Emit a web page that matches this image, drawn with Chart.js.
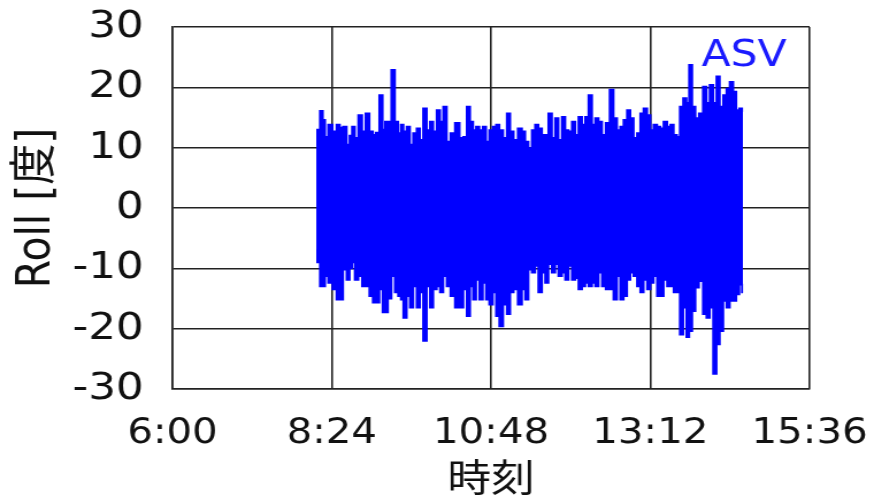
<!DOCTYPE html>
<html lang="ja">
<head>
<meta charset="utf-8">
<title>Roll</title>
<script src="https://cdn.jsdelivr.net/npm/chart.js@4.4.1/dist/chart.umd.min.js"></script>
<style>
  html, body { margin: 0; padding: 0; background: #fff; overflow: hidden; }
  #wrap { width: 874px; height: 496px; }
  /* 横長に引き伸ばした図なので canvas を横方向に拡大する */
  #chart { transform: scaleX(1.15); transform-origin: 0 0; }
</style>
</head>
<body>
<div id="wrap"><canvas id="chart" width="760" height="496"></canvas></div>
<script>
// ──────────────── データ ────────────────
// 時刻 [分, 0:00 起点]、区間ごとの最大・最小ロール角 [度]
const times = [
  490.0, 491.8, 494.9, 496.8, 499.0, 502.6, 506.7, 509.9, 512.6, 515.8, 519.0, 521.2, 523.5, 526.2, 529.8, 533.0, 536.2, 539.8, 542.5, 545.2, 548.8, 551.1,
  553.4, 556.1, 559.7, 562.4, 565.6, 567.4, 570.1, 573.3, 576.0, 579.2, 582.3, 585.1, 588.2, 591.4, 594.1, 597.3, 600.5, 603.2, 606.4, 609.5, 613.1, 617.7,
  621.3, 624.5, 627.6, 630.4, 633.1, 635.8, 639.0, 642.1, 644.8, 648.0, 651.2, 653.9, 657.1, 660.7, 663.9, 666.6, 670.2, 674.3, 677.5, 680.2, 683.3, 686.5,
  689.2, 692.4, 695.6, 698.3, 701.4, 704.6, 707.3, 710.5, 713.7, 716.4, 719.6, 722.7, 725.5, 728.6, 731.8, 734.5, 737.7, 740.8, 743.6, 746.7, 749.9, 753.5,
  757.1, 760.3, 763.5, 766.2, 769.4, 772.5, 775.3, 778.4, 781.6, 784.3, 787.5, 790.7, 793.4, 796.5, 799.7, 802.4, 805.6, 808.8, 811.5, 814.7, 817.4,
  820.1, 823.3, 826.0, 828.2, 831.4, 834.1, 837.8, 841.4, 844.1, 847.3, 850.4, 853.2, 856.3, 859.5, 862.2, 865.4, 868.5, 870.8, 874.0, 875.8
];
const rollMax = [
  10.5, 13, 16.1, 14.6, 11.8, 13.8, 12.7, 13.8, 13.3, 13.5, 10.5, 12, 13.5, 11.6, 15.4, 12.7, 15.7, 12.7, 12.1, 12.5, 18.7, 13,
  14.3, 14.3, 22.9, 14.3, 12.4, 13.8, 12.7, 13.5, 10.5, 12.4, 13.2, 11.3, 16.5, 12.9, 14.3, 12.7, 16.2, 14.3, 16.8, 11, 12.4, 14.1,
  11.6, 11.8, 16.8, 14.3, 12.9, 13.5, 12.9, 13.5, 11, 12.9, 13.5, 13.8, 12.9, 11.6, 15.7, 12.7, 11.3, 13.2, 12.7, 11, 9.9, 12.9,
  13.8, 13.2, 12.1, 12.1, 15.7, 11.6, 14.9, 11.3, 15.1, 12.9, 12.7, 14.3, 12.1, 15.1, 13.8, 15.1, 18.7, 13.8, 14.9, 14.3, 12.1, 14.1,
  19.6, 14.9, 12.9, 13.5, 14.6, 16.2, 14.9, 11.6, 12.4, 15.7, 16.5, 15.4, 12.9, 13.8, 13.5, 13.2, 14.3, 13.5, 13.8, 12.1, 11.8,
  16.8, 18.2, 17.4, 23.7, 16.8, 14.9, 15.7, 20.1, 17.4, 20.4, 17.4, 21.8, 16.8, 18.7, 19.8, 20.9, 19.3, 16.2, 16.5, 16
];
const rollMin = [
  -7, -9, -13, -13, -11.3, -12.4, -13.5, -15.2, -15.2, -10.2, -11.9, -10, -9, -11.9, -11.3, -13, -13, -14.6, -15.7, -15.7, -13.5, -17.3,
  -17.3, -15, -11.3, -14, -14.6, -15.2, -18.2, -14.6, -16.5, -13, -16.5, -14, -22, -13, -16.5, -13.5, -13, -14, -11.3, -13, -14.6, -16.5,
  -16.5, -13.5, -17.9, -13, -15.2, -11.9, -15.2, -12.4, -15.2, -16, -14, -17.9, -19.6, -16, -17.6, -14, -13.5, -16, -13.5, -15.2, -10.2, -10.7,
  -9.6, -14, -10.7, -12.4, -9.3, -10.7, -9.3, -11.3, -10.7, -11.9, -9.6, -11.9, -11.6, -13.5, -13, -12.4, -13, -12.4, -13, -10.7, -13, -13.5,
  -13.5, -15.2, -11.3, -15.2, -14.6, -11.9, -10.7, -11.3, -13, -14, -11.9, -13.5, -12.4, -11.3, -14.6, -14.6, -11.9, -13, -13, -14, -14,
  -21, -16.5, -21.4, -20.4, -17.1, -13.2, -12.1, -17.6, -18.2, -16.5, -27.5, -22.6, -20.4, -15.4, -16.5, -15.4, -15.4, -14.3, -12.7, -14
];

// 軸の範囲と目盛
const xMin = 360, xMax = 936, xStep = 144;   // 6:00 〜 15:36、2:24 刻み
const yMin = -30, yMax = 30, yStep = 10;
const seriesLabel = 'ASV';

// ──────────────── 描画 ────────────────
// 上側・下側の包絡線を階段状に描き、その間を塗りつぶして振動の帯にする
const upper = times.map((t, i) => ({ x: t, y: rollMax[i] }));
const lower = times.map((t, i) => ({ x: t, y: rollMin[i] }));

const fmtTime = v => `${Math.floor(v / 60)}:${String(v % 60).padStart(2, '0')}`;
const FONT = 'DejaVu Sans, "Noto Sans CJK JP", sans-serif';
const BLUE = '#0000ff';

// 右上に系列名を書く
const seriesName = {
  id: 'seriesName',
  afterDraw(chart) {
    const { ctx, chartArea } = chart;
    ctx.save();
    ctx.font = '37px ' + FONT;
    ctx.fillStyle = '#1a1aff';
    ctx.textAlign = 'right';
    ctx.textBaseline = 'middle';
    ctx.fillText(seriesLabel, chartArea.right - 20, chartArea.top + 29);
    ctx.restore();
  }
};

// 目盛ラベルを軸から離すための見えない目盛線
// (ticks.padding だと描画領域の余白まで増えてしまう)
const hiddenTicks = len => ({ color: '#222', lineWidth: 1.6, drawTicks: true, tickLength: len, tickColor: 'rgba(0,0,0,0)' });

new Chart(document.getElementById('chart'), {
  type: 'line',
  data: {
    datasets: [{
      label: seriesLabel,
      data: upper,
      borderColor: BLUE,
      backgroundColor: BLUE,
      borderWidth: 1.8,
      pointRadius: 0,
      stepped: 'middle',
      fill: '+1'
    }, {
      label: seriesLabel + ' min',
      data: lower,
      borderColor: BLUE,
      backgroundColor: BLUE,
      borderWidth: 1.8,
      pointRadius: 0,
      stepped: 'middle',
      fill: false
    }]
  },
  options: {
    responsive: false,
    animation: false,
    layout: { padding: { top: 27, right: 56, left: 0, bottom: 0 } },
    plugins: { legend: { display: false }, tooltip: { enabled: false } },
    scales: {
      x: {
        type: 'linear',
        min: xMin, max: xMax,
        afterFit: s => { s.height = 107; },
        ticks: {
          stepSize: xStep,
          color: '#111',
          font: { family: FONT, size: 35 },
          padding: 0,
          maxRotation: 0,
          callback: v => fmtTime(v)
        },
        grid: hiddenTicks(24),
        border: { color: '#222', width: 1.6 },
        title: {
          display: true,
          text: '時刻',
          color: '#111',
          font: { family: FONT, size: 38 },
          padding: { top: 0, bottom: -8 }
        }
      },
      y: {
        min: yMin, max: yMax,
        afterFit: s => { s.width = 150; },
        ticks: {
          stepSize: yStep,
          color: '#111',
          font: { family: FONT, size: 38 },
          padding: 0
        },
        grid: hiddenTicks(25),
        border: { color: '#222', width: 1.6 },
        title: {
          display: true,
          text: 'Roll [度]',
          color: '#111',
          font: { family: FONT, size: 41 },
          padding: { top: 8, bottom: 0 }
        }
      }
    }
  },
  plugins: [seriesName]
});
</script>
</body>
</html>
